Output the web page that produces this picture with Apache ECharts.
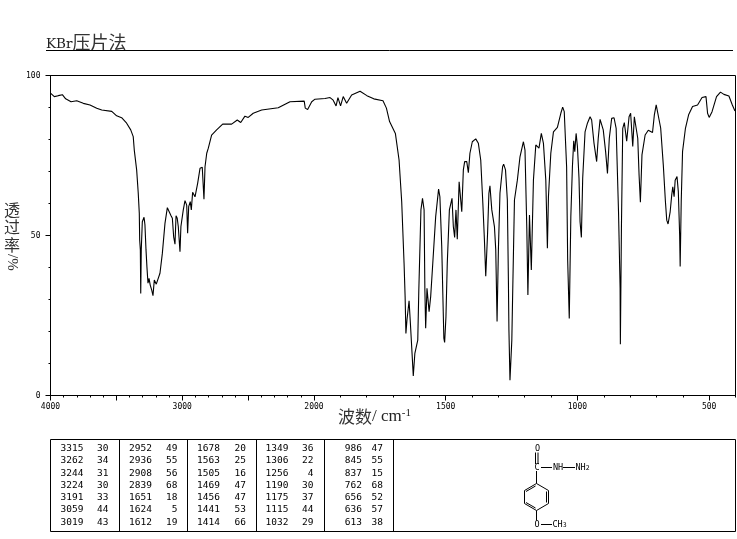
<!DOCTYPE html>
<html><head><meta charset="utf-8">
<style>html,body{margin:0;padding:0;background:#fff}#c{width:737px;height:539px}</style>
<script src="https://cdn.jsdelivr.net/npm/echarts@6/dist/echarts.min.js"></script>
</head><body><div id="c"></div>
<script>
const wavenumbers = [3998,3971,3941,3910,3885,3844,3801,3751,3700,3649,3611,3535,3498,3460,3422,3391,3372,3364,3346,3334,3326,3323,3318,3315,3311,3303,3290,3283,3275,3268,3260,3252,3243,3232,3222,3212,3197,3184,3169,3151,3131,3113,3103,3085,3075,3065,3055,3047,3038,3030,3017,3010,2992,2979,2966,2959,2951,2939,2931,2921,2903,2883,2865,2848,2835,2827,2814,2802,2777,2739,2693,2625,2582,2556,2524,2499,2461,2397,2271,2182,2074,2066,2048,2017,1996,1958,1939,1927,1916,1909,1899,1889,1876,1857,1825,1799,1773,1738,1725,1713,1691,1677,1667,1658,1654,1651,1647,1639,1634,1627,1623,1617,1606,1602,1594,1588,1582,1579,1576,1571,1563,1557,1549,1538,1527,1522,1515,1507,1504,1499,1494,1486,1476,1471,1466,1461,1456,1449,1443,1439,1433,1428,1420,1414,1408,1399,1386,1376,1367,1359,1353,1348,1341,1336,1332,1325,1315,1310,1305,1300,1294,1284,1280,1273,1266,1262,1260,1256,1249,1246,1239,1228,1218,1205,1199,1192,1188,1182,1177,1175,1167,1158,1151,1146,1137,1129,1120,1114,1110,1101,1091,1076,1063,1056,1050,1041,1037,1031,1025,1019,1014,1010,1005,1000,994,990,985,980,971,962,952,946,937,927,921,914,902,893,886,879,870,861,853,844,838,837,833,828,822,813,804,798,790,784,777,771,766,761,755,743,731,715,708,701,694,684,674,666,661,656,648,642,638,633,629,622,617,612,610,606,601,590,578,563,544,527,512,506,500,489,472,457,444,425,412,402];
const transmittance = [94.4,93.4,93.7,94.0,92.7,91.8,92.1,91.3,90.8,89.8,89.2,88.8,87.4,86.8,85.1,83.0,80.9,76.7,70.5,63.3,57.0,48.6,45.5,31.9,45.5,54.3,55.7,53.3,45.5,40.2,35.1,36.6,34.5,33.0,31.2,36.1,34.8,34.8,38.2,44.4,53.8,58.7,58.7,56.2,55.4,49.6,47.3,56.2,55.4,52.8,44.9,52.8,58.0,60.9,59.5,50.7,59.0,60.6,58.0,63.5,62.1,66.3,71.0,71.3,61.3,71.5,75.7,77.3,81.4,83.0,84.8,84.8,86.1,85.3,87.3,86.9,88.2,89.2,89.9,91.8,92.0,89.8,89.4,91.8,92.6,92.8,93.1,92.3,90.5,93.1,90.5,93.4,91.3,93.9,95.1,93.7,92.7,92.1,89.8,85.6,81.9,73.6,60.6,41.3,30.9,19.4,23.6,29.6,22.6,12.1,6.1,13.2,17.3,33.0,58.0,61.6,58.0,33.0,21.0,33.5,26.2,30.9,41.3,55.9,64.5,62.1,46.5,17.9,16.6,24.6,41.3,58.0,61.6,52.8,49.4,58.0,48.8,66.8,66.8,57.4,70.5,73.1,73.1,69.6,75.7,79.3,80.2,78.8,73.6,60.1,48.6,37.3,50.7,63.2,65.5,58.0,52.8,45.5,23.1,45.5,63.2,71.5,72.3,70.5,61.1,36.1,20.5,4.8,17.3,30.9,61.1,67.3,74.6,79.3,76.7,51.7,31.4,56.4,56.4,39.2,67.3,78.3,78.3,77.3,81.9,78.8,67.3,46.0,62.1,75.7,82.4,83.8,88.2,90.1,88.7,71.5,42.3,24.1,55.9,71.5,79.6,76.2,81.9,77.8,67.9,54.3,49.4,67.9,82.4,85.1,87.1,86.1,78.8,73.1,80.4,86.3,83.0,76.2,69.4,80.4,86.6,86.8,83.5,57.4,33.5,16.0,52.2,83.5,85.3,79.5,87.1,88.2,77.8,87.1,87.4,80.4,68.9,60.4,75.2,81.4,82.9,82.2,87.7,90.8,90.2,83.6,72.0,60.6,54.8,53.6,57.4,62.7,65.2,62.1,67.3,68.4,63.7,50.2,40.3,60.6,76.2,83.5,87.7,90.3,90.8,93.1,93.4,88.2,86.9,88.7,93.4,94.8,94.1,93.6,90.8,88.9];
const xLabelTicks = [4000,3000,2000,1500,1000,500];
const xMajorTicks = [4000,3500,3000,2500,2000,1500,1000,500];
const xMinorTicks = [4000,3900,3800,3700,3600,3500,3400,3300,3200,3100,3000,2900,2800,2700,2600,2500,2400,2300,2200,2100,2000,1900,1800,1700,1600,1500,1400,1300,1200,1100,1000,900,800,700,600,500,400];
const peakWn = [[3315,3262,3244,3224,3191,3059,3019],[2952,2936,2908,2839,1651,1624,1612],[1678,1563,1505,1469,1456,1441,1414],[1349,1306,1256,1190,1175,1115,1032],[986,845,837,762,656,636,613]];
const peakT = [[30,34,31,30,33,44,43],[49,55,56,68,18,5,19],[20,25,16,47,47,53,66],[36,22,4,30,37,44,29],[47,55,15,68,52,57,38]];
const yTitleChars = ['透','过','率'];

// The instrument's axis doubles its scale below 2000 cm-1.
const toScale = w => w >= 2000 ? (4000 - w) / 2 : 1000 + (2000 - w);
const fromScale = u => u <= 1000 ? 4000 - 2 * u : 2000 - (u - 1000);

const ink = '#000';
const serif = '"Liberation Serif","Noto Sans CJK SC",serif';
const dserif = '"DejaVu Serif",serif';
const cjk = '"Noto Sans CJK SC",sans-serif';
const mono = '"DejaVu Sans Mono",monospace';

const graphics = [];
const seg = (x1,y1,x2,y2,w=1) => graphics.push({type:'line',silent:true,shape:{x1,y1,x2,y2},style:{stroke:ink,lineWidth:w}});
const txt = (x,y,style) => graphics.push({type:'text',silent:true,x,y,style:Object.assign({fill:ink},style)});

// Title and rule
txt(46,33,{text:'{a|KBr}{b|压片法}',rich:{a:{fontFamily:dserif,fontSize:13.5,fill:'#222',verticalAlign:'bottom',lineHeight:18},b:{fontFamily:cjk,fontSize:18,fill:'#333',lineHeight:18}}});
seg(46,50.5,733,50.5);

// Axis titles
yTitleChars.forEach((c,i)=>txt(12,209.5+i*17.5,{text:c,fontFamily:cjk,fontSize:16,fill:'#333',align:'center',verticalAlign:'middle'}));
graphics.push({type:'text',silent:true,x:19,y:254,rotation:-Math.PI/2,style:{text:'/%',fontFamily:serif,fontSize:15,fill:'#333'}});
txt(338,408,{text:'{a|波数}{c|/ cm}{b|-1}',rich:{a:{fontFamily:cjk,fontSize:17,fill:'#333'},c:{fontFamily:serif,fontSize:17,fill:'#222'},b:{fontFamily:serif,fontSize:11,fill:'#222',verticalAlign:'top',lineHeight:14}}});

// Peak table
const boxL=50.5, boxR=735.5, boxT=439.5, boxB=531.5;
seg(boxL,boxT,boxR,boxT); seg(boxL,boxB,boxR,boxB); seg(boxL,boxT,boxL,boxB); seg(boxR,boxT,boxR,boxB);
[119.5,187.5,256.5,324.5,393.5].forEach(x=>seg(x,boxT,x,boxB));
const wnRight=[83.5,152,220,288.5,362], tRight=[108.5,177.5,246,313.5,383];
peakWn.forEach((col,c)=>col.forEach((w,r)=>{
  const y=448.6+r*12.25;
  txt(wnRight[c],y,{text:String(w),fontFamily:mono,fontSize:9.5,align:'right',verticalAlign:'middle'});
  txt(tRight[c],y,{text:String(peakT[c][r]),fontFamily:mono,fontSize:9.5,align:'right',verticalAlign:'middle'});
}));

// Structure of 4-methoxybenzohydrazide
const ringX=[536.5,548.5,548.5,536.5,524.5,524.5], ringY=[483.5,490.5,503.5,510.5,503.5,490.5];
ringX.forEach((x,i)=>{const j=(i+1)%6; seg(x,ringY[i],ringX[j],ringY[j]);});
seg(546.5,491.5,546.5,502.5);seg(526,491.5,535.5,486);seg(526,502.5,535.5,508);
seg(535.5,452.5,535.5,464);seg(538,452.5,538,464);
seg(536.5,471,536.5,483.5);seg(541,467.5,552,467.5);seg(563,467.5,575,467.5);
seg(536.5,510.5,536.5,520.5);seg(541,524.5,552,524.5);
const atom=(x,y,t,sub)=>txt(x,y,{text:sub?`{a|${t}}{b|${sub}}`:`{a|${t}}`,verticalAlign:'middle',align:'left',rich:{a:{fontFamily:mono,fontSize:8.5},b:{fontFamily:mono,fontSize:6.5,verticalAlign:'bottom',lineHeight:7,padding:[4,0,0,0]}}});
atom(535,448.7,'O');atom(534.5,467.5,'C');atom(553,467.5,'NH');atom(575.5,467.5,'NH','2');atom(534.5,524.5,'O');atom(552.5,524.5,'CH','3');

const tickLabel = {fontFamily:mono,fontSize:8,color:ink};
const option = {
  animation:false,
  backgroundColor:'#fff',
  grid:{left:50.5,right:1.5,top:75.5,bottom:143.5,show:true,borderColor:ink,borderWidth:1,backgroundColor:'transparent'},
  xAxis:[
    {type:'value',min:0,max:2600,position:'bottom',splitLine:{show:false},
     axisLine:{show:true,onZero:false,lineStyle:{color:ink,width:1}},
     axisTick:{show:true,length:5,lineStyle:{color:ink,width:1},customValues:xMajorTicks.map(toScale)},
     axisLabel:{show:true,margin:7,...tickLabel,customValues:xLabelTicks.map(toScale),formatter:v=>String(Math.round(fromScale(v))),hideOverlap:false,showMinLabel:true}},
    {type:'value',min:0,max:2600,position:'bottom',splitLine:{show:false},
     axisLine:{show:false,onZero:false},
     axisTick:{show:true,length:2,lineStyle:{color:ink,width:1},customValues:xMinorTicks.map(toScale)},
     axisLabel:{show:false}}
  ],
  yAxis:{type:'value',min:0,max:100,interval:50,splitLine:{show:false},
     axisLine:{show:true,onZero:false,lineStyle:{color:ink,width:1}},
     axisTick:{show:true,length:5,lineStyle:{color:ink,width:1}},
     minorTick:{show:true,splitNumber:5,length:2,lineStyle:{color:ink,width:1}},
     axisLabel:{margin:10,...tickLabel}},
  series:[{type:'line',xAxisIndex:0,yAxisIndex:0,showSymbol:false,silent:true,smooth:false,
     clip:true,lineStyle:{color:ink,width:1.1},
     data:wavenumbers.map((w,i)=>[toScale(w),transmittance[i]])}],
  graphic:graphics
};
echarts.init(document.getElementById('c'),null,{renderer:'canvas'}).setOption(option);
</script></body></html>
